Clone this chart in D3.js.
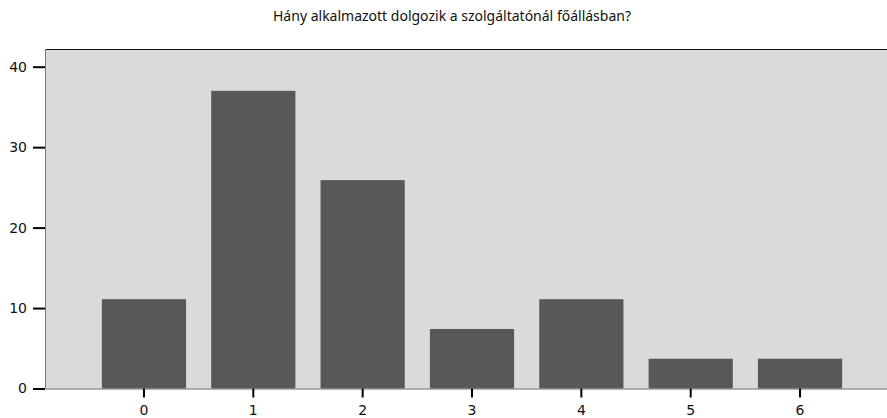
<!DOCTYPE html>
<html>
<head>
<meta charset="utf-8">
<script src="https://cdn.jsdelivr.net/npm/d3@7"></script>
<style>
  body { margin: 0; background: #fff; }
  svg { display: block; }
</style>
</head>
<body>
<div id="chart"></div>
<script>
var title = 'Hány alkalmazott dolgozik a szolgáltatónál főállásban?';
var categories = ['0', '1', '2', '3', '4', '5', '6'];
var values = [11.1, 37.0, 25.9, 7.4, 11.1, 3.7, 3.7];
var yTicks = [0, 10, 20, 30, 40];

var width = 887,
    height = 418;

var plotLeft = 45, plotTop = 49, plotBottom = 388.5, plotRight = 899;

var svg = d3.select('#chart').append('svg')
    .attr('width', width)
    .attr('height', height);

var x = d3.scaleBand()
    .domain(categories)
    .range([plotLeft, plotRight])
    .paddingInner(0.23)
    .paddingOuter(0.52);

var y = d3.scaleLinear()
    .domain([0, 42.2])
    .range([plotBottom, plotTop]);

// plot background
svg.append('rect')
    .attr('x', plotLeft)
    .attr('y', plotTop)
    .attr('width', plotRight - plotLeft)
    .attr('height', plotBottom - plotTop)
    .style('fill', '#d9dadc');

svg.append('line')
    .attr('x1', plotLeft).attr('x2', plotRight)
    .attr('y1', plotTop + 0.5).attr('y2', plotTop + 0.5)
    .style('stroke', '#111')
    .style('stroke-width', 1);

svg.append('line')
    .attr('x1', plotLeft + 0.5).attr('x2', plotLeft + 0.5)
    .attr('y1', plotTop).attr('y2', plotBottom)
    .style('stroke', '#777')
    .style('stroke-width', 1);

svg.selectAll('.bar')
    .data(values)
    .enter()
    .append('rect')
    .attr('class', 'bar')
    .attr('x', function (d, i) { return x(categories[i]); })
    .attr('width', x.bandwidth())
    .attr('y', function (d) { return y(d); })
    .attr('height', function (d) { return y(0) - y(d); })
    .style('fill', '#58585a');

var yAxis = svg.append('g')
    .attr('transform', 'translate(' + plotLeft + ',0)')
    .call(d3.axisLeft(y).tickValues(yTicks).tickSize(12).tickSizeOuter(0).tickPadding(6));

var xAxis = svg.append('g')
    .attr('transform', 'translate(0,' + plotBottom + ')')
    .call(d3.axisBottom(x).tickSize(9).tickSizeOuter(0).tickPadding(8));

[yAxis, xAxis].forEach(function (g) {
    g.select('.domain').style('stroke', '#666').style('stroke-width', 1);
    g.selectAll('.tick line').style('stroke', '#000').style('stroke-width', 2);
    g.selectAll('.tick text')
        .style('font-family', 'DejaVu Sans, sans-serif')
        .style('font-size', '14px')
        .style('fill', '#111');
});
yAxis.select('.domain').remove();

svg.append('text')
    .attr('x', 452)
    .attr('y', 21)
    .style('text-anchor', 'middle')
    .style('font-family', 'Noto Sans, sans-serif')
    .style('font-size', '14px')
    .style('fill', '#111')
    .text(title);
</script>
</body>
</html>
